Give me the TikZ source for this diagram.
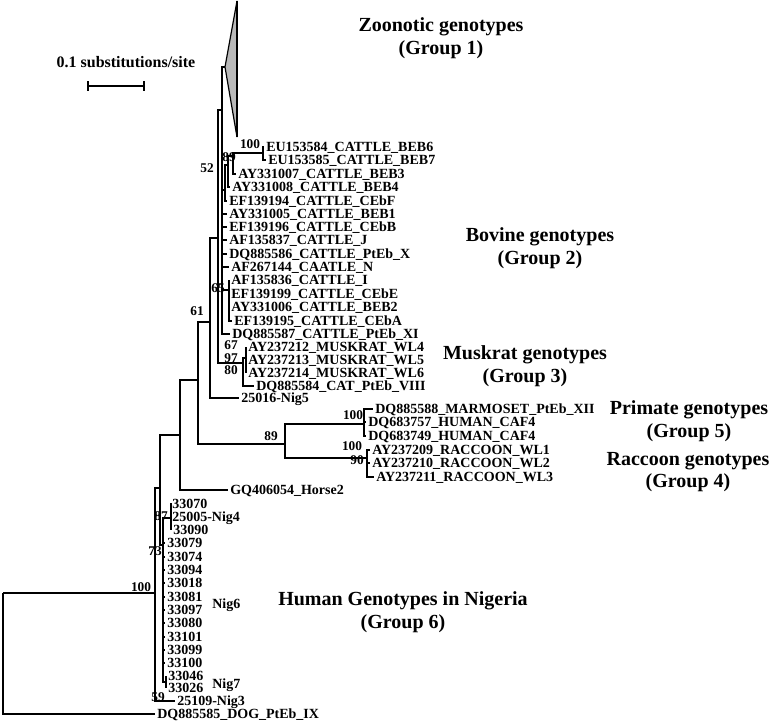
\documentclass[tikz,border=0pt]{standalone}
\usepackage{fontspec}
\setmainfont{Liberation Serif}
\usepackage{tikz}

\tikzset{
  branch/.style={line width=1.4pt},
  leaf/.style={anchor=west, inner xsep=1.5pt, inner ysep=0pt, text height=7pt, text depth=0pt, font=\fontsize{10.5}{12}\selectfont\bfseries},
  boot/.style={inner sep=0pt, font=\fontsize{10}{12}\selectfont\bfseries},
  group/.style={align=center, font=\fontsize{15}{17}\selectfont\bfseries}
}

\begin{document}
\begin{tikzpicture}[x=0.75pt, y=-0.75pt]
\useasboundingbox (0,0) rectangle (775,724);

% inner nodes of the tree
\coordinate (root) at (3,593);
\coordinate (n100) at (155,593);
\coordinate (nB) at (160,488);
\coordinate (nC) at (180,435);
\coordinate (nD) at (198,380);
\coordinate (nE) at (210,322);
\coordinate (nF) at (218,238);
\coordinate (nG) at (222,110);
\coordinate (tri) at (225,67);
\coordinate (triT) at (237,1);
\coordinate (triB) at (237,137);
\coordinate (nL1) at (225,190);
\coordinate (nL2) at (228,165);
\coordinate (n89) at (233,156);
\coordinate (nEU) at (263,153);
\coordinate (n65) at (229,290);
\coordinate (nMusk) at (243,363);
\coordinate (nM2) at (246,358);
\coordinate (nP) at (285,444);
\coordinate (nPrim) at (364,424);
\coordinate (nRac) at (367,458);
\coordinate (nNig) at (163,545);
\coordinate (n87) at (171,518);
\coordinate (nN7) at (166,682);

% taxa
\node[leaf] (eu4) at (264,147) {EU153584\_CATTLE\_BEB6};
\node[leaf] (eu5) at (266,160) {EU153585\_CATTLE\_BEB7};
\node[leaf] (beb3) at (236,174) {AY331007\_CATTLE\_BEB3};
\node[leaf] (beb4) at (230,187) {AY331008\_CATTLE\_BEB4};
\node[leaf] (cebf) at (227,201) {EF139194\_CATTLE\_CEbF};
\node[leaf] (beb1) at (227,214) {AY331005\_CATTLE\_BEB1};
\node[leaf] (cebb) at (227,227) {EF139196\_CATTLE\_CEbB};
\node[leaf] (cj) at (227,240) {AF135837\_CATTLE\_J};
\node[leaf] (ptebx) at (227,254) {DQ885586\_CATTLE\_PtEb\_X};
\node[leaf] (cn) at (229,267) {AF267144\_CAATLE\_N};
\node[leaf] (ci) at (229,280) {AF135836\_CATTLE\_I};
\node[leaf] (cebe) at (229,294) {EF139199\_CATTLE\_CEbE};
\node[leaf] (beb2) at (229,307) {AY331006\_CATTLE\_BEB2};
\node[leaf] (ceba) at (232,321) {EF139195\_CATTLE\_CEbA};
\node[leaf] (ptebxi) at (230,334) {DQ885587\_CATTLE\_PtEb\_XI};
\node[leaf] (wl4) at (246,347) {AY237212\_MUSKRAT\_WL4};
\node[leaf] (wl5) at (246,360) {AY237213\_MUSKRAT\_WL5};
\node[leaf] (wl6) at (246,373) {AY237214\_MUSKRAT\_WL6};
\node[leaf] (cat) at (254,386) {DQ885584\_CAT\_PtEb\_VIII};
\node[leaf] (nig5) at (239,398) {25016-Nig5};
\node[leaf] (marm) at (373,409) {DQ885588\_MARMOSET\_PtEb\_XII};
\node[leaf] (hum57) at (366,422) {DQ683757\_HUMAN\_CAF4};
\node[leaf] (hum49) at (366,436) {DQ683749\_HUMAN\_CAF4};
\node[leaf] (rac1) at (370,450) {AY237209\_RACCOON\_WL1};
\node[leaf] (rac2) at (370,463) {AY237210\_RACCOON\_WL2};
\node[leaf] (rac3) at (374,477) {AY237211\_RACCOON\_WL3};
\node[leaf] (horse) at (228,490) {GQ406054\_Horse2};
\node[leaf] (s070) at (170,504) {33070};
\node[leaf] (nig4) at (170,517) {25005-Nig4};
\node[leaf] (s090) at (171,530) {33090};
\node[leaf] (s079) at (165,543) {33079};
\node[leaf] (s074) at (165,557) {33074};
\node[leaf] (s094) at (165,570) {33094};
\node[leaf] (s018) at (165,583) {33018};
\node[leaf] (s081) at (165,597) {33081};
\node[leaf] (s097) at (165,610) {33097};
\node[leaf] (s080) at (165,623) {33080};
\node[leaf] (s101) at (165,637) {33101};
\node[leaf] (s099) at (165,650) {33099};
\node[leaf] (s100) at (165,663) {33100};
\node[leaf] (s046) at (166,676) {33046};
\node[leaf] (s026) at (166,688) {33026};
\node[leaf] (nig3) at (175,701) {25109-Nig3};
\node[leaf] (dog) at (155,714) {DQ885585\_DOG\_PtEb\_IX};

\node[leaf] (nig6) at (210,604) {Nig6};
\node[leaf] (nig7) at (210,684) {Nig7};

% branches
\draw[branch] (root) |- (n100);
\draw[branch] (root) |- (dog.west);
\draw[branch] (n100) |- (nB);
\draw[branch] (n100) |- (nig3.west);
\draw[branch] (nB) |- (nC);
\draw[branch] (nB) |- (nNig);
\draw[branch] (nC) |- (nD);
\draw[branch] (nC) |- (horse.west);
\draw[branch] (nD) |- (nE);
\draw[branch] (nD) |- (nP);
\draw[branch] (nE) |- (nF);
\draw[branch] (nE) |- (nig5.west);
\draw[branch] (nF) |- (nG);
\draw[branch] (nF) |- (nMusk);
\draw[branch] (nG) |- (tri);
\draw[branch] (nG) |- (nL1);
\draw[branch] (nG) |- (beb1.west);
\draw[branch] (nG) |- (cebb.west);
\draw[branch] (nG) |- (cj.west);
\draw[branch] (nG) |- (ptebx.west);
\draw[branch] (nG) |- (cn.west);
\draw[branch] (nG) |- (n65);
\draw[branch] (nG) |- (ptebxi.west);
\draw[branch] (nL1) |- (nL2);
\draw[branch] (nL1) |- (cebf.west);
\draw[branch] (nL2) |- (n89);
\draw[branch] (nL2) |- (beb4.west);
\draw[branch] (n89) |- (nEU);
\draw[branch] (n89) |- (beb3.west);
\draw[branch] (nEU) |- (eu4.west);
\draw[branch] (nEU) |- (eu5.west);
\draw[branch] (n65) |- (ci.west);
\draw[branch] (n65) |- (cebe.west);
\draw[branch] (n65) |- (beb2.west);
\draw[branch] (n65) |- (ceba.west);
\draw[branch] (nMusk) |- (nM2);
\draw[branch] (nMusk) |- (cat.west);
\draw[branch] (nM2) |- (wl4.west);
\draw[branch] (nM2) |- (wl5.west);
\draw[branch] (nM2) |- (wl6.west);
\draw[branch] (nP) |- (nPrim);
\draw[branch] (nP) |- (nRac);
\draw[branch] (nPrim) |- (marm.west);
\draw[branch] (nPrim) |- (hum57.west);
\draw[branch] (nPrim) |- (hum49.west);
\draw[branch] (nRac) |- (rac1.west);
\draw[branch] (nRac) |- (rac2.west);
\draw[branch] (nRac) |- (rac3.west);
\draw[branch] (nNig) |- (n87);
\draw[branch] (nNig) |- (s079.west);
\draw[branch] (nNig) |- (s074.west);
\draw[branch] (nNig) |- (s094.west);
\draw[branch] (nNig) |- (s018.west);
\draw[branch] (nNig) |- (s081.west);
\draw[branch] (nNig) |- (s097.west);
\draw[branch] (nNig) |- (s080.west);
\draw[branch] (nNig) |- (s101.west);
\draw[branch] (nNig) |- (s099.west);
\draw[branch] (nNig) |- (s100.west);
\draw[branch] (nNig) |- (nN7);
\draw[branch] (n87) |- (s070.west);
\draw[branch] (n87) |- (nig4.west);
\draw[branch] (n87) |- (s090.west);
\draw[branch] (nN7) |- (s046.west);
\draw[branch] (nN7) |- (s026.west);

% collapsed zoonotic clade
\filldraw[fill=gray!55, line width=0.9pt] (tri) -- (triT) -- (triB) -- cycle;
\draw[line width=2pt] (triT) -- (triB);

% bootstrap values
\node[boot] (b100eu) at (250,144) {100};
\node[boot] (b89) at (229,157) {89};
\node[boot] (b52) at (207,168) {52};
\node[boot] (b65) at (218,288) {65};
\node[boot] (b61) at (197,311) {61};
\node[boot] (b67) at (231,345) {67};
\node[boot] (b97) at (231,358) {97};
\node[boot] (b80) at (231,370) {80};
\node[boot] (b89p) at (271,436) {89};
\node[boot] (b100p) at (353,415) {100};
\node[boot] (b100r) at (352,446) {100};
\node[boot] (b90r) at (357,460) {90};
\node[boot] (b87) at (161,516) {87};
\node[boot] (b73) at (155,551) {73};
\node[boot] (b100n) at (141,587) {100};
\node[boot] (b59) at (158,697) {59};

% scale bar
\coordinate (sbl) at (88,86);
\coordinate (sbr) at (144,86);
\draw[branch] (sbl) -- (sbr);
\draw[branch] ([yshift=3.5pt]sbl) -- ([yshift=-3.5pt]sbl);
\draw[branch] ([yshift=3.5pt]sbr) -- ([yshift=-3.5pt]sbr);
\node[font=\fontsize{12}{14}\selectfont\bfseries] (scaletxt) at (126,62) {0.1 substitutions/site};

% group names
\node[group] (g1) at (441,38) {Zoonotic genotypes\\(Group 1)};
\node[group] (g2) at (540,248) {Bovine genotypes\\(Group 2)};
\node[group] (g3) at (525,366) {Muskrat genotypes\\(Group 3)};
\node[group] (g5) at (689,421) {Primate genotypes\\(Group 5)};
\node[group] (g4) at (688,472) {Raccoon genotypes\\(Group 4)};
\node[group] (g6) at (403,612) {Human Genotypes in Nigeria\\(Group 6)};

\end{tikzpicture}
\end{document}
